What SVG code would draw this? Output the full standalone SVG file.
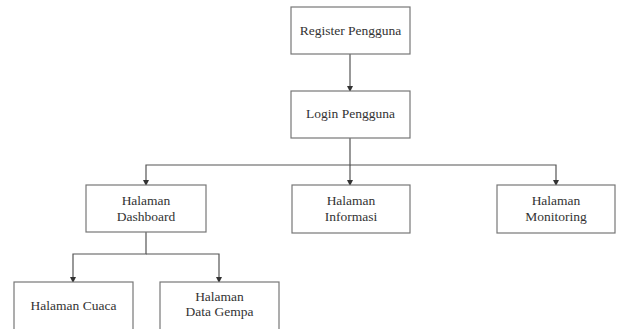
<svg xmlns="http://www.w3.org/2000/svg" width="618" height="329" viewBox="0 0 618 329">
<style>
.box{fill:#fff;stroke:#777;stroke-width:1.2}
.t{font-family:'Liberation Serif','DejaVu Serif',serif;font-size:13.5px;fill:#333;text-anchor:middle;dominant-baseline:middle}
.c{fill:none;stroke:#555;stroke-width:1.2}
</style>
<defs>
<marker id="ah" markerWidth="6" markerHeight="6" refX="5" refY="3" orient="auto" markerUnits="userSpaceOnUse">
<path d="M0,0 L6,3 L0,6 Z" fill="#333"/>
</marker>
</defs>
<rect width="618" height="329" fill="#fff"/>
<g id="connectors">
<path class="c" d="M350,54 V91" marker-end="url(#ah)"/>
<path class="c" d="M350,138 V165 H146 V185" marker-end="url(#ah)"/>
<path class="c" d="M350,165 V185" marker-end="url(#ah)"/>
<path class="c" d="M350,165 H556 V185" marker-end="url(#ah)"/>
<path class="c" d="M146,232 V254 H73 V282" marker-end="url(#ah)"/>
<path class="c" d="M146,254 H219 V282" marker-end="url(#ah)"/>
</g>
<g id="register"><rect class="box" x="291" y="7" width="119" height="47"/><text class="t" x="350.5" y="32">Register Pengguna</text></g>
<g id="login"><rect class="box" x="291" y="91" width="119" height="47"/><text class="t" x="350.5" y="115">Login Pengguna</text></g>
<g id="dashboard"><rect class="box" x="86" y="185" width="120" height="47"/><text class="t" x="146" y="202">Halaman</text><text class="t" x="146" y="218">Dashboard</text></g>
<g id="informasi"><rect class="box" x="292" y="185" width="118" height="48"/><text class="t" x="351" y="202">Halaman</text><text class="t" x="351" y="218">Informasi</text></g>
<g id="monitoring"><rect class="box" x="497" y="185" width="118" height="48"/><text class="t" x="556" y="202">Halaman</text><text class="t" x="556" y="218">Monitoring</text></g>
<g id="cuaca"><rect class="box" x="14" y="282" width="119" height="60"/><text class="t" x="73.5" y="307">Halaman Cuaca</text></g>
<g id="datagempa"><rect class="box" x="160" y="282" width="119" height="60"/><text class="t" x="219.5" y="298">Halaman</text><text class="t" x="219.5" y="313">Data Gempa</text></g>
</svg>
